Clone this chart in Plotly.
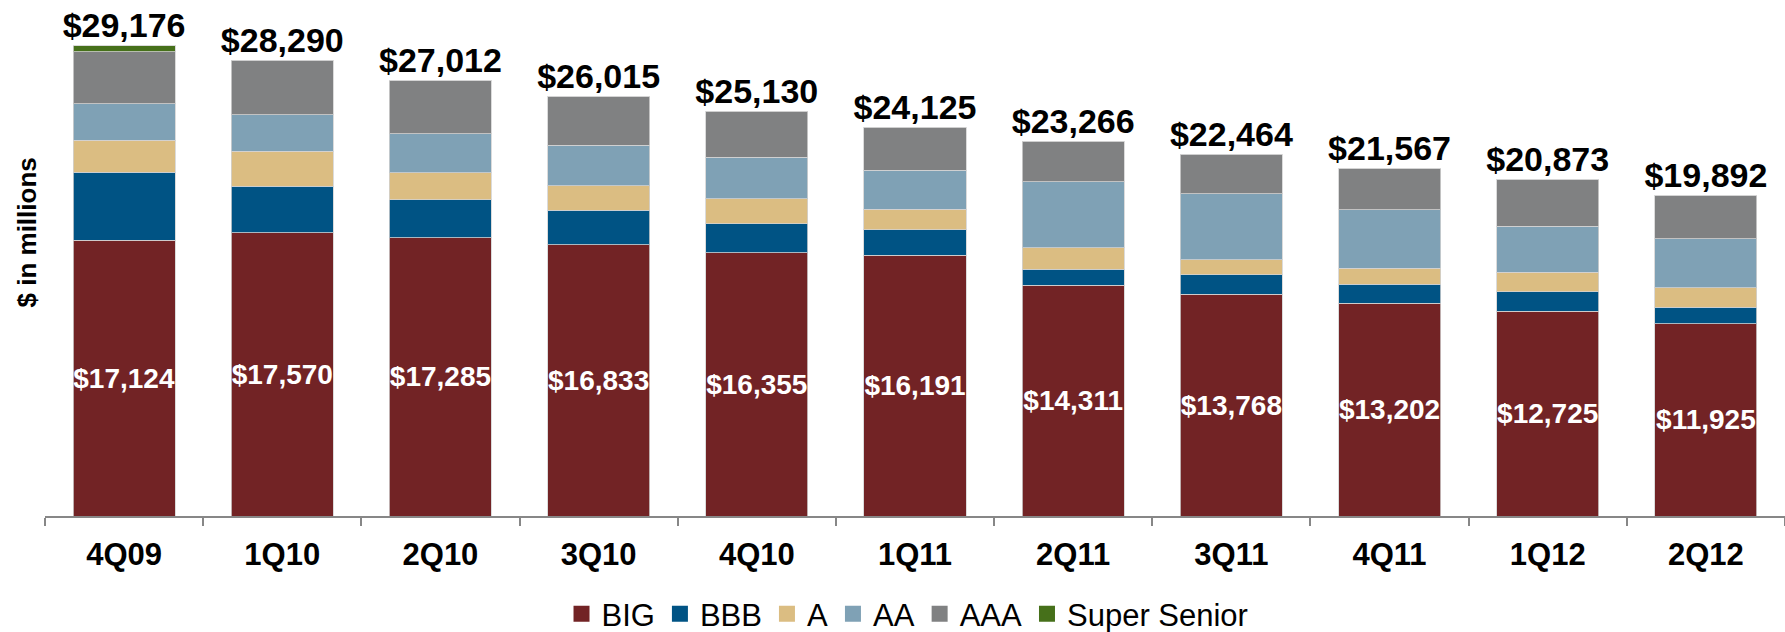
import plotly.graph_objects as go

categories = ["4Q09", "1Q10", "2Q10", "3Q10", "4Q10", "1Q11", "2Q11", "3Q11", "4Q11", "1Q12", "2Q12"]
big = [17124, 17570, 17285, 16833, 16355, 16191, 14311, 13768, 13202, 12725, 11925]
bbb = [4220, 2897, 2338, 2153, 1780, 1572, 993, 1200, 1179, 1200, 1034]
a_rated = [1986, 2172, 1697, 1510, 1552, 1283, 1345, 931, 993, 1221, 1200]
aa = [2256, 2256, 2400, 2526, 2588, 2421, 4097, 4117, 3625, 2855, 3041]
aaa = [3228, 3395, 3292, 2993, 2855, 2658, 2520, 2448, 2568, 2872, 2692]
super_senior = [362, 0, 0, 0, 0, 0, 0, 0, 0, 0, 0]
totals = [29176, 28290, 27012, 26015, 25130, 24125, 23266, 22464, 21567, 20873, 19892]

FONT = "Liberation Sans, Arial, sans-serif"
series = [
    ("BIG", big, "#722325"),
    ("BBB", bbb, "#005384"),
    ("A", a_rated, "#DBBD82"),
    ("AA", aa, "#7FA1B5"),
    ("AAA", aaa, "#808182"),
    ("Super Senior", super_senior, "#46701A"),
]

fig = go.Figure()
for name, vals, color in series:
    kw = {}
    if name == "BIG":
        kw = dict(
            text=[f"${v:,}" for v in vals],
            textposition="inside",
            insidetextanchor="middle",
            textangle=0,
            constraintext="none",
            textfont=dict(family=FONT, size=28, color="white", weight="bold"),
        )
    fig.add_trace(go.Bar(
        x=categories, y=vals, name=name, showlegend=False,
        marker=dict(color=color, line=dict(color="rgba(210,210,210,0.8)", width=1)),
        hoverinfo="skip", **kw,
    ))

# totals above bars
fig.add_trace(go.Scatter(
    x=categories, y=totals, mode="text", showlegend=False,
    text=[f"${v:,}" for v in totals], textposition="top center",
    textfont=dict(family=FONT, size=34, color="black", weight="bold"),
    cliponaxis=False, hoverinfo="skip",
))

# legend entries
for name, vals, color in series:
    fig.add_trace(go.Scatter(
        x=[None], y=[None], mode="markers", name=name,
        marker=dict(symbol="square", size=16, color=color),
    ))

fig.update_layout(
    width=1785, height=632,
    margin=dict(l=45, r=0, t=20, b=116, autoexpand=False),
    barmode="stack", bargap=0.355,
    plot_bgcolor="white", paper_bgcolor="white",
    showlegend=True,
    legend=dict(
        orientation="h", x=0.4957, xanchor="center", y=-0.1976, yanchor="middle",
        font=dict(family=FONT, size=31, color="black"), traceorder="normal",
        itemclick=False,
    ),
    xaxis=dict(
        type="category", range=[-0.5, len(categories) - 0.5],
        showline=True, linecolor="#878787", linewidth=2,
        ticks="outside", tickson="boundaries", ticklen=8, tickwidth=2, tickcolor="#878787",
        tickfont=dict(family=FONT, size=31, color="black", weight="bold"),
        ticklabelstandoff=10,
        showgrid=False, zeroline=False, automargin=False,
    ),
    yaxis=dict(
        range=[0, 30788], showticklabels=False, showgrid=False, zeroline=False,
        showline=False, ticks="", automargin=False,
    ),
    annotations=[dict(
        text="$ in millions", textangle=-90, showarrow=False,
        xref="paper", yref="paper", x=0, xshift=-18.5, xanchor="center",
        y=0.5706, yanchor="middle",
        font=dict(family=FONT, size=26, color="black", weight="bold"),
    )],
)

fig.write_html(
    "out.html",
    config={"displayModeBar": False},
    post_script="document.body.style.margin='0';document.body.style.overflow='hidden';",
)
